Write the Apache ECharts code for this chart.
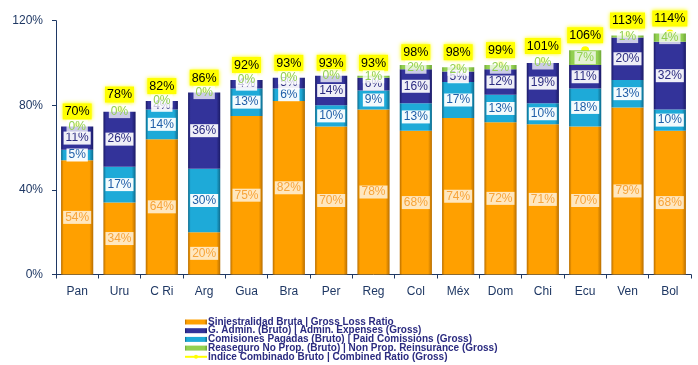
<!DOCTYPE html>
<html>
<head>
<meta charset="utf-8">
<script src="https://cdn.jsdelivr.net/npm/echarts@6/dist/echarts.min.js"></script>
<style>
html,body{margin:0;padding:0;background:#fff;}
#c{width:698px;height:365px;}
</style>
</head>
<body>
<div id="c"></div>
<script>
var categories = ['Pan','Uru','C Ri','Arg','Gua','Bra','Per','Reg','Col','Méx','Dom','Chi','Ecu','Ven','Bol'];
var lossRatio   = [54,34,64,20,75,82,70,78,68,74,72,71,70,79,68];
var commissions = [5,17,14,30,13,6,10,9,13,17,13,10,18,13,10];
var adminExp    = [11,26,4,36,4,5,14,6,16,5,12,19,11,20,32];
var reinsurance = [0,0,0,0,0,0,0,1,2,2,2,0,7,1,4];
var combined    = [70,78,82,86,92,93,93,93,98,98,99,101,106,113,114];
var yTicks = [0,40,80,120];

var names = [
  'Siniestralidad Bruta | Gross Loss Ratio',
  'G. Admin. (Bruto) | Admin. Expenses (Gross)',
  'Comisiones Pagadas (Bruto) | Paid Comissions (Gross)',
  'Reaseguro No Prop. (Bruto) | Non Prop. Reinsurance (Gross)',
  'Indice Combinado Bruto | Combined Ratio (Gross)'
];

function grad(edge, base){
  return {type:'linear',x:0,y:0,x2:1,y2:0,colorStops:[
    {offset:0,color:edge},{offset:0.08,color:base},{offset:0.88,color:base},{offset:1,color:edge}]};
}
function lbl(color,bg){
  return {show:true,position:'inside',formatter:'{c}%',color:color,fontSize:12,
    fontFamily:'Liberation Sans, Arial',backgroundColor:bg,padding:[1,2,0,2]};
}

var chart = echarts.init(document.getElementById('c'));
chart.setOption({
  animation:false,
  textStyle:{fontFamily:'Liberation Sans, Arial'},
  grid:{left:56,right:7,top:20.7,bottom:90.5},
  legend:{
    orient:'vertical',left:184,top:317,height:60,padding:0,itemWidth:22,itemHeight:5,itemGap:-1.3,
    textStyle:{fontSize:10,fontWeight:'bold',color:'#2B2B80',lineHeight:8.8,padding:[0,0,0,-4]},
    data:[
      {name:names[0],icon:'rect'},
      {name:names[1],icon:'rect'},
      {name:names[2],icon:'rect'},
      {name:names[3],icon:'rect'},
      {name:names[4],lineStyle:{opacity:1,color:'#FFFF00',width:2}}
    ]
  },
  xAxis:{
    type:'category',data:categories,
    axisLine:{lineStyle:{color:'#1F3864',width:1}},
    axisTick:{show:true,length:4,lineStyle:{color:'#1F3864'}},
    axisLabel:{color:'#1F3864',fontSize:12,margin:11}
  },
  yAxis:{
    type:'value',min:0,max:120,interval:40,
    axisLine:{show:true,lineStyle:{color:'#1F3864'}},
    axisTick:{show:true,length:4,lineStyle:{color:'#1F3864'}},
    splitLine:{show:false},
    axisLabel:{color:'#1F3864',fontSize:12,margin:13,formatter:function(v){return yTicks.indexOf(v)>=0? v+'%':'';}}
  },
  series:[
    {name:names[0],type:'bar',stack:'s',data:lossRatio,barCategoryGap:'24%',z:3,
     itemStyle:{color:grad('#B86E00','#FFA000')},
     label:lbl('#F7A43A','rgba(255,255,255,0.75)')},
    {name:names[2],type:'bar',stack:'s',data:commissions,z:3,
     itemStyle:{color:grad('#0D6A8C','#1EAAD8')},
     label:lbl('#1F5FA8','rgba(255,255,255,0.95)')},
    {name:names[1],type:'bar',stack:'s',data:adminExp,z:3,
     itemStyle:{color:grad('#1A1A66','#33339A')},
     label:lbl('#2B2B80','rgba(255,255,255,0.92)')},
    {name:names[3],type:'bar',stack:'s',data:reinsurance,z:3,
     itemStyle:{color:grad('#6FA838','#92D050')},
     label:lbl('#92D050','rgba(255,255,255,0.75)')},
    {name:names[4],type:'line',data:combined,z:2,
     symbol:'circle',symbolSize:8,
     itemStyle:{color:'#FFFF00'},
     lineStyle:{opacity:0},
     label:{show:true,position:'top',distance:3,formatter:'{c}%',color:'#000',fontSize:12.5,
       backgroundColor:'#FFFF00',padding:[2,2,1,2],shadowColor:'#FFFF00',shadowBlur:4}}
  ]
});
</script>
</body>
</html>
